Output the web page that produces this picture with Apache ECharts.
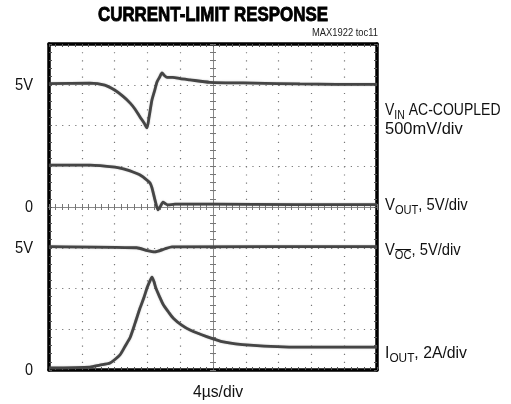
<!DOCTYPE html>
<html><head><meta charset="utf-8">
<script src="https://cdn.jsdelivr.net/npm/echarts@6/dist/echarts.min.js"></script>
<style>html,body{margin:0;padding:0;background:#fff}#c{width:511px;height:404px}</style>
</head><body><div id="c"></div>
<script>
// Time axis in µs (4 µs/div, 10 div), vertical in screen divisions (0..8)
const xTicks = [0, 4, 8, 12, 16, 20, 24, 28, 32, 36, 40];
const yTicks = [0, 1, 2, 3, 4, 5, 6, 7, 8];

// V_IN (AC-coupled, 500mV/div) trace
const vinTime = [0, 5.0, 6.8, 8.0, 9.0, 9.9, 10.5, 11.1, 11.6, 11.95, 12.2, 12.56, 12.9, 13.17, 13.5, 13.78, 14.1, 14.4, 15.1, 16.0, 17.2, 19.6, 25, 30.6, 35, 40];
const vinDiv  = [7.03, 7.04, 6.99, 6.87, 6.72, 6.55, 6.40, 6.21, 6.06, 5.94, 6.20, 6.63, 6.87, 7.07, 7.19, 7.29, 7.22, 7.18, 7.18, 7.15, 7.12, 7.06, 7.04, 7.02, 7.01, 7.01];

// V_OUT (5V/div) trace
const voutTime = [0, 5.0, 8.05, 9.2, 10.24, 11.0, 11.46, 12.0, 12.32, 12.56, 12.93, 13.29, 13.6, 13.9, 14.2, 14.51, 15.37, 20, 30, 40];
const voutDiv  = [5.03, 5.03, 4.98, 4.93, 4.86, 4.80, 4.74, 4.65, 4.59, 4.47, 4.17, 3.93, 4.02, 4.12, 4.08, 4.05, 4.07, 4.07, 4.06, 4.06];

// V_OC (5V/div) trace
const vocTime = [0, 10.7, 12.0, 12.9, 14.1, 15.0, 40];
const vocDiv  = [3.03, 3.0, 2.93, 2.90, 2.97, 3.02, 3.03];

// I_OUT (2A/div) trace
const ioutTime = [0, 5.0, 6.2, 7.44, 8.66, 9.3, 9.88, 10.5, 11.1, 11.6, 11.95, 12.3, 12.56, 12.8, 13.03, 13.5, 13.94, 14.55, 15.16, 16.18, 17.2, 19.23, 21.26, 24.5, 30.6, 35, 40];
const ioutDiv  = [0.05, 0.07, 0.12, 0.17, 0.37, 0.59, 0.79, 1.15, 1.52, 1.79, 2.01, 2.18, 2.28, 2.17, 2.01, 1.79, 1.60, 1.43, 1.27, 1.10, 0.98, 0.82, 0.69, 0.61, 0.56, 0.56, 0.56];

// Scale labels on the left (text, level in divisions)
const leftLabelText = ['5V', '0', '5V', '0'];
const leftLabelDiv  = [7.0, 4.0, 3.0, 0.0];

const pair = (t, v) => t.map((x, i) => [x, v[i]]);

const G = {left: 49, top: 44, width: 328, height: 326};
const FAM = "'Liberation Sans', Arial, Helvetica, sans-serif";
const TRACE = '#454545';
const INK = '#111';

function frameX(pos) {
  return {type: 'value', min: 0, max: 40, interval: 4, position: pos, gridIndex: 0,
    axisLine: {show: true, onZero: false, lineStyle: {color: '#000', width: 3.5}},
    axisTick: {show: true, inside: true, length: 3, lineStyle: {color: '#555', width: 1}},
    minorTick: {show: true, splitNumber: 5, length: 3, lineStyle: {color: '#555', width: 1}},
    axisLabel: {show: false},
    splitLine: {show: pos === 'bottom', lineStyle: {color: '#777', width: 1.2, type: [1.2, 6.95]}}
  };
}
function frameY(pos) {
  return {type: 'value', min: 0, max: 8, interval: 1, position: pos, gridIndex: 0,
    axisLine: {show: true, onZero: false, lineStyle: {color: '#000', width: 3.5}},
    axisTick: {show: true, inside: true, length: 3, lineStyle: {color: '#555', width: 1}},
    minorTick: {show: true, splitNumber: 5, length: 3, lineStyle: {color: '#555', width: 1}},
    axisLabel: {show: false},
    splitLine: {show: pos === 'left', lineStyle: {color: '#777', width: 1.2, type: [1.2, 5.36]}}
  };
}
function centerX(inside) {
  return {type: 'value', min: 0, max: 40, interval: 4, position: 'bottom', offset: -G.height / 2, gridIndex: 0,
    axisLine: {show: true, onZero: false, lineStyle: {color: '#888', width: 1}},
    axisTick: {show: true, inside: inside, length: 3, lineStyle: {color: '#777', width: 1}},
    minorTick: {show: true, splitNumber: 5, length: 3, lineStyle: {color: '#777', width: 1}},
    axisLabel: {show: false}, splitLine: {show: false}
  };
}
function centerY(inside) {
  return {type: 'value', min: 0, max: 8, interval: 1, position: 'left', offset: -G.width / 2, gridIndex: 0,
    axisLine: {show: true, onZero: false, lineStyle: {color: '#888', width: 1}},
    axisTick: {show: true, inside: inside, length: 3, lineStyle: {color: '#777', width: 1}},
    minorTick: {show: true, splitNumber: 5, length: 3, lineStyle: {color: '#777', width: 1}},
    axisLabel: {show: false}, splitLine: {show: false}
  };
}

function seriesOf(name, t, v) {
  return {name: name, type: 'line', xAxisIndex: 0, yAxisIndex: 0, data: pair(t, v),
    showSymbol: false, symbol: 'none', smooth: 0.2, clip: false, z: 5,
    lineStyle: {color: TRACE, width: 2.8, shadowColor: 'rgba(110,110,110,0.55)', shadowBlur: 1.5},
    emphasis: {disabled: true}};
}

const chart = echarts.init(document.getElementById('c'), null, {renderer: 'canvas'});
chart.setOption({
  animation: false,
  backgroundColor: '#fff',
  grid: {left: G.left, top: G.top, width: G.width, height: G.height, containLabel: false},
  xAxis: [frameX('bottom'), frameX('top'), centerX(true), centerX(false)],
  yAxis: [frameY('left'), frameY('right'), centerY(true), centerY(false)],
  series: [
    seriesOf('VIN', vinTime, vinDiv),
    seriesOf('VOUT', voutTime, voutDiv),
    seriesOf('VOC', vocTime, vocDiv),
    seriesOf('IOUT', ioutTime, ioutDiv)
  ]
});

// ---- text helpers (narrow Helvetica look via horizontal scaling) ----
const mctx = document.createElement('canvas').getContext('2d');
function fontStr(size, weight) { return (weight || 'normal') + ' ' + size + 'px ' + FAM; }
function measure(str, size, weight) { mctx.font = fontStr(size, weight); return mctx.measureText(str).width; }

// pieces: [{t, size, weight, dy}] laid left->right, fitted into [x0,x1], vertical centre cy
function fitted(pieces, x0, x1, cy, fill, strokeW) {
  const widths = pieces.map(p => measure(p.t, p.size, p.weight));
  const total = widths.reduce((a, b) => a + b, 0);
  const s = (x1 - x0) / total;
  const out = [];
  let cx = x0;
  pieces.forEach((p, i) => {
    const st = {text: p.t, font: fontStr(p.size, p.weight), fill: fill || INK, align: 'left', verticalAlign: 'middle'};
    if (strokeW) { st.stroke = fill || INK; st.lineWidth = strokeW; }
    out.push({type: 'text', x: cx, y: cy + (p.dy || 0), scaleX: s, scaleY: 1, z: 10, style: st});
    p.x0 = cx; p.x1 = cx + widths[i] * s;
    cx += widths[i] * s;
  });
  return out;
}

const gx = [];
// Title and tag
gx.push(...fitted([{t: 'CURRENT-LIMIT RESPONSE', size: 21, weight: 'bold'}], 98, 328, 15.5, '#000', 0.9));
gx.push(...fitted([{t: 'MAX1922 toc11', size: 10}], 312, 378, 33.5, '#222'));
gx.push(...fitted([{t: '4\u00B5s/div', size: 16}], 193, 243, 392.5));

// Left scale labels (levels via the chart's own y scale)
const yPix = d => chart.convertToPixel({yAxisIndex: 0}, d);
leftLabelText.forEach((txt, i) => {
  const w = txt.length === 1 ? 8 : 18;
  gx.push(...fitted([{t: txt, size: 16}], 33 - w, 33, yPix(leftLabelDiv[i]) + 0.5));
});

// Right channel labels
const SUBDY = 4.6;
gx.push(...fitted([{t: 'V', size: 16}, {t: 'IN', size: 12, dy: SUBDY}, {t: ' AC-COUPLED', size: 16}], 385, 500.5, 111));
gx.push(...fitted([{t: '500mV/div', size: 16}], 385, 462.7, 130));
gx.push(...fitted([{t: 'V', size: 16}, {t: 'OUT', size: 12, dy: SUBDY}, {t: ', 5V/div', size: 16}], 385, 467.7, 206));
const oc = [{t: 'V', size: 16}, {t: 'OC', size: 12, dy: SUBDY}, {t: ', 5V/div', size: 16}];
gx.push(...fitted(oc, 385, 460.7, 251));
gx.push({type: 'line', z: 10, shape: {x1: oc[1].x0 + 0.5, y1: 249.5, x2: oc[1].x1 - 0.5, y2: 249.5}, style: {stroke: INK, lineWidth: 1}});
gx.push(...fitted([{t: 'I', size: 16}, {t: 'OUT', size: 12, dy: SUBDY}, {t: ', 2A/div', size: 16}], 385, 467, 354));

chart.setOption({graphic: gx});
</script></body></html>
